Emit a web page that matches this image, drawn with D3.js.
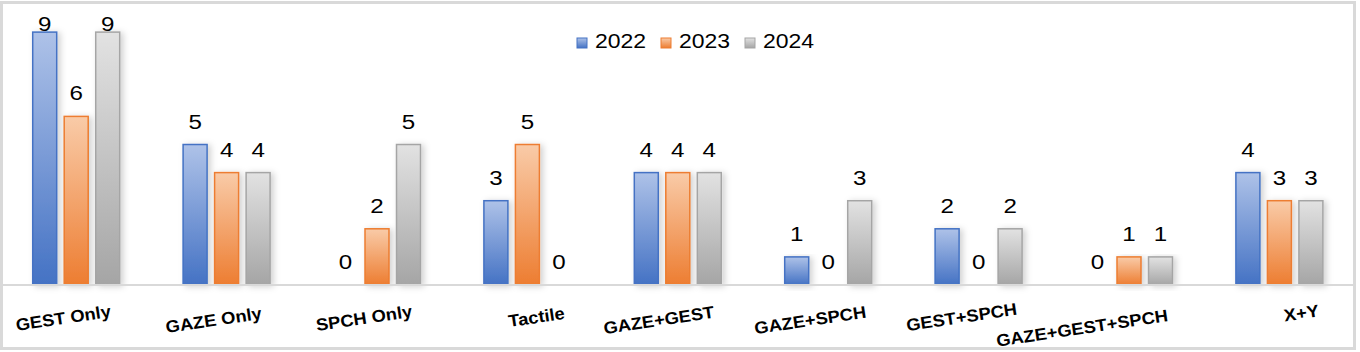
<!DOCTYPE html>
<html>
<head>
<meta charset="utf-8">
<script src="https://cdn.jsdelivr.net/npm/d3@7"></script>
<style>
    body { margin: 0; background: #fff; }
    text { font-family: "Liberation Sans", Arial, sans-serif; }
</style>
</head>
<body>
<div id="chart"></div>
<script>

// data
var categories = ["GEST Only", "GAZE Only", "SPCH Only", "Tactile", "GAZE+GEST",
    "GAZE+SPCH", "GEST+SPCH", "GAZE+GEST+SPCH", "X+Y"];
var years = ["2022", "2023", "2024"];
var values2022 = [9, 5, 0, 3, 4, 1, 2, 0, 4];
var values2023 = [6, 4, 2, 5, 4, 0, 0, 1, 3];
var values2024 = [9, 4, 5, 0, 4, 3, 2, 1, 3];
var yTicks = [0, 10];

var series = [values2022, values2023, values2024];

// the category labels sit a bit off their slots in the original
var labelNudge = [[-13, -2], [-13, 0], [-13, -2], [9, -3], [-19, 0],
    [-18, 0], [-17, -3], [-47, 8], [22, -7]];

var colors = [
    {top: "#aec2e8", bottom: "#4472c4", line: "#4472c4"},
    {top: "#f9cba8", bottom: "#ed7d31", line: "#ed7d31"},
    {top: "#e2e2e2", bottom: "#a5a5a5", line: "#a5a5a5"}
];

var width = 1360, height = 352;
var baseY = 285;
var barW = 24;

var svg = d3.select("#chart").append("svg")
    .attr("width", width)
    .attr("height", height);

var defs = svg.append("defs");

colors.forEach(function (c, i) {
    var g = defs.append("linearGradient")
        .attr("id", "grad" + i)
        .attr("x1", 0).attr("y1", 0).attr("x2", 0).attr("y2", 1);
    g.append("stop").attr("offset", "0%").attr("stop-color", c.top);
    g.append("stop").attr("offset", "100%").attr("stop-color", c.bottom);
});

var shadow = defs.append("filter")
    .attr("id", "shadow")
    .attr("x", "-50%").attr("y", "-10%")
    .attr("width", "200%").attr("height", "130%");
shadow.append("feDropShadow")
    .attr("dx", 3).attr("dy", 1)
    .attr("stdDeviation", 3)
    .attr("flood-color", "#000")
    .attr("flood-opacity", 0.18);

// frame
svg.append("rect")
    .attr("x", 1.5).attr("y", 2.5)
    .attr("width", 1353).attr("height", 346)
    .attr("fill", "#fff")
    .attr("stroke", "#d9d9d9")
    .attr("stroke-width", 3);

// scales
var x = d3.scaleBand()
    .domain(categories)
    .range([1, 1354.6]);

var xInner = d3.scaleBand()
    .domain(years)
    .range([-47.25, 47.25]);

var y = d3.scaleLinear()
    .domain(d3.extent(yTicks))
    .range([baseY, 4]);

// bars + value labels, one group per year
var groups = svg.selectAll("g.year")
    .data(series)
    .enter().append("g")
    .attr("class", "year");

groups.each(function (vals, si) {
    var g = d3.select(this);
    var rows = vals.map(function (v, i) {
        return {v: v, cx: x(categories[i]) + x.bandwidth() / 2 + xInner(years[si]) + xInner.bandwidth() / 2};
    });

    g.selectAll("rect")
        .data(rows.filter(function (r) { return r.v > 0; }))
        .enter().append("rect")
        .attr("x", function (r) { return r.cx - barW / 2; })
        .attr("y", function (r) { return y(r.v); })
        .attr("width", barW)
        .attr("height", function (r) { return baseY - y(r.v); })
        .attr("fill", "url(#grad" + si + ")")
        .attr("stroke", colors[si].line)
        .attr("stroke-width", 1.5)
        .attr("filter", "url(#shadow)");

    g.selectAll("text")
        .data(rows)
        .enter().append("text")
        .attr("transform", function (r) {
            var ly = Math.max(y(r.v) - 16, y(10) + 27);
            return "translate(" + r.cx + "," + ly + ") scale(1.15,1)";
        })
        .attr("text-anchor", "middle")
        .attr("font-size", 21)
        .attr("fill", "#000")
        .text(function (r) { return r.v; });
});

// baseline
svg.append("line")
    .attr("x1", 3).attr("x2", 1354)
    .attr("y1", baseY).attr("y2", baseY)
    .attr("stroke", "#d9d9d9")
    .attr("stroke-width", 2);

// category labels
svg.selectAll("text.cat")
    .data(categories)
    .enter().append("text")
    .attr("class", "cat")
    .attr("transform", function (d, i) {
        var px = x(d) + x.bandwidth() / 2 + labelNudge[i][0];
        var py = 320 + labelNudge[i][1];
        return "translate(" + px + "," + py + ") rotate(-8.5) scale(1.08,1)";
    })
    .attr("text-anchor", "middle")
    .attr("dy", "0.35em")
    .attr("font-size", 17)
    .attr("font-weight", "bold")
    .attr("fill", "#000")
    .text(function (d) { return d; });

// legend
var legend = svg.selectAll("g.legend")
    .data(years)
    .enter().append("g")
    .attr("class", "legend")
    .attr("transform", function (d, i) { return "translate(" + (577 + i * 84) + ",38)"; });

legend.append("rect")
    .attr("width", 10).attr("height", 10)
    .attr("fill", function (d, i) { return "url(#grad" + i + ")"; })
    .attr("stroke", function (d, i) { return colors[i].line; })
    .attr("stroke-width", 1);

legend.append("text")
    .attr("transform", "translate(18,10) scale(1.15,1)")
    .attr("font-size", 20)
    .attr("fill", "#000")
    .text(function (d) { return d; });

</script>
</body>
</html>
